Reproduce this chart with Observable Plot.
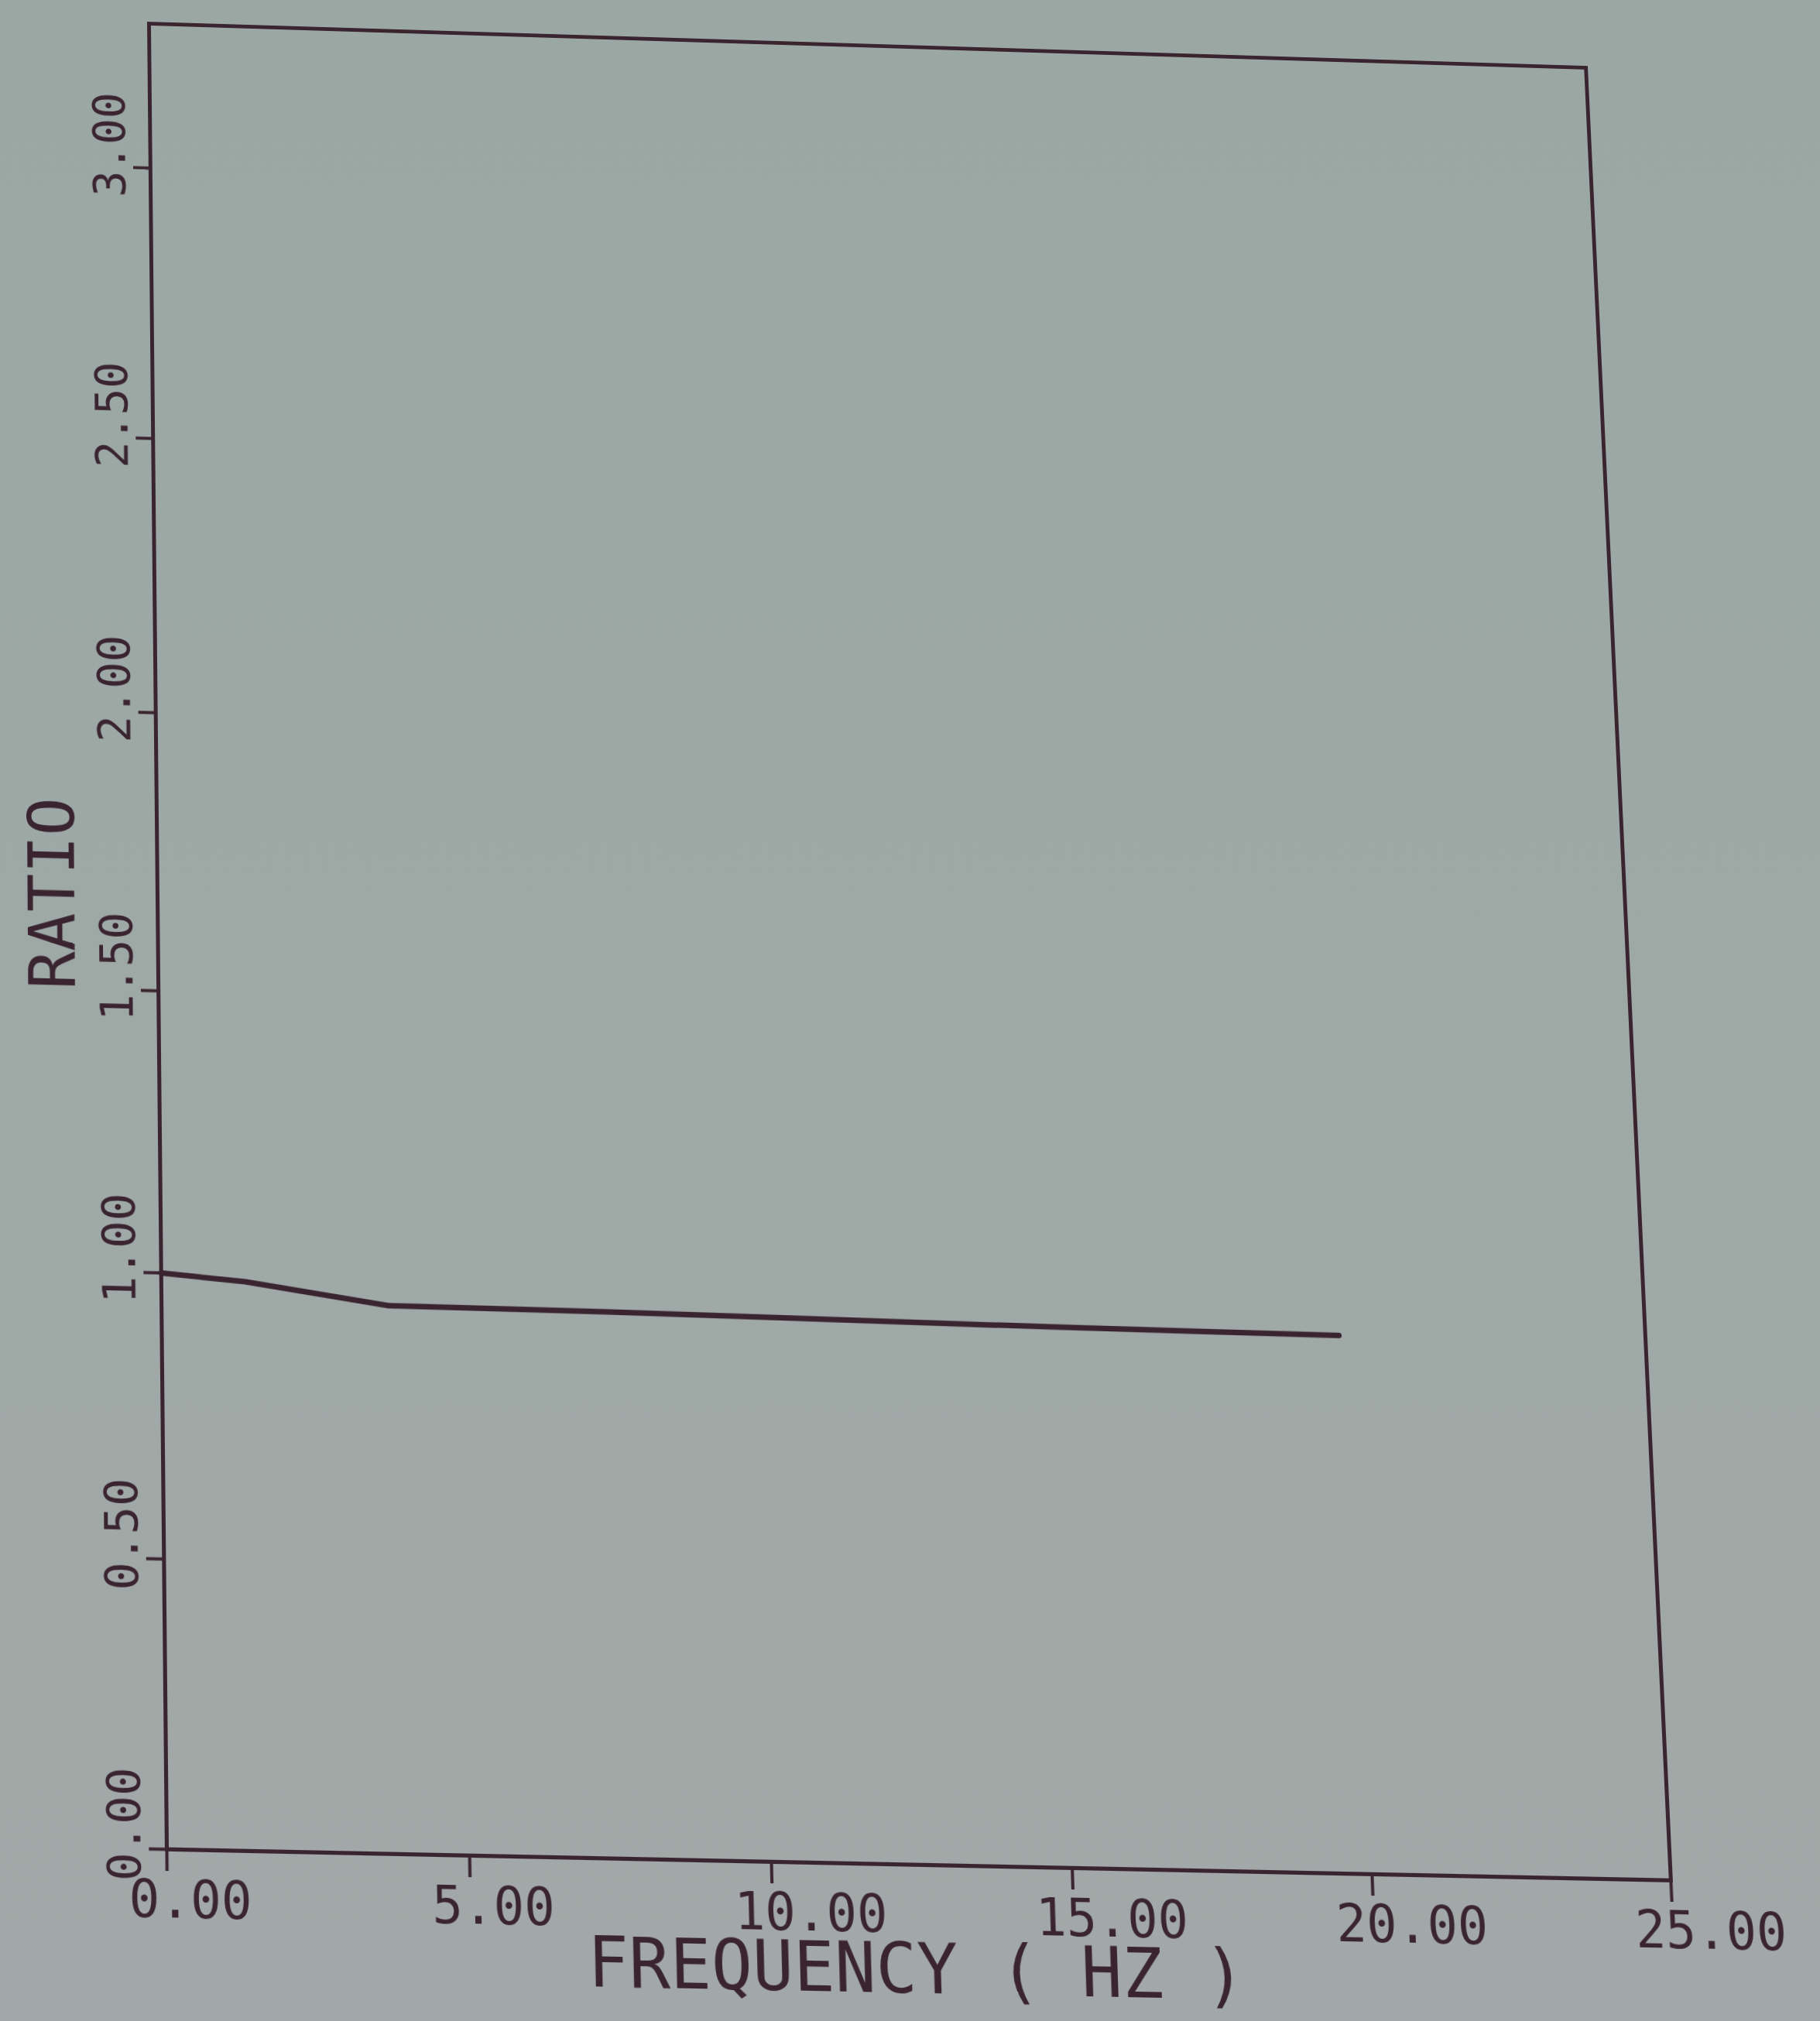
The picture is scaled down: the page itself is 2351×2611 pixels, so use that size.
<!DOCTYPE html>
<html>
<head>
<meta charset="utf-8">
<script src="https://cdn.jsdelivr.net/npm/d3@7"></script>
<script src="https://cdn.jsdelivr.net/npm/@observablehq/plot@0.6"></script>
<style>
  html, body { margin: 0; padding: 0; }
  body { width: 2351px; height: 2611px; background: linear-gradient(180deg, #9aa7a3 0%, #9ea9a6 50%, #a2a8a7 100%); overflow: hidden; }
  #chart { position: absolute; left: 0; top: 0; }
  #chart svg { display: block; }
</style>
</head>
<body>
<div id="chart"></div>
<script>
// ---- data ----
const frequency = [0, 1.4, 3.8, 7.4, 15.0, 19.8];
const ratio     = [1.000, 0.988, 0.952, 0.950, 0.942, 0.939];

const xTicks = [0, 5, 10, 15, 20, 25];
const xTickLabels = ["0.00", "5.00", "10.00", "15.00", "20.00", "25.00"];
const yTicks = [0, 0.5, 1, 1.5, 2, 2.5, 3];
const yTickLabels = ["0.00", "0.50", "1.00", "1.50", "2.00", "2.50", "3.00"];

const xLabel = "FREQUENCY ( HZ )";
const yLabel = "RATIO";
const xDomain = [0, 25];
const yDomain = [0, 3.27];

// ---- layout / style ----
const W = 2351, H = 2611;
const M = {left: 205, right: 247, top: 58, bottom: 205};
const ink = "#3a2430";
const font = "'DejaVu Sans Mono', 'Liberation Mono', monospace";

// the photographed sheet is seen slightly in perspective: frame corners (TL, TR, BR, BL) in the photo
const photoFrame = [[192, 30], [2048, 87], [2158, 2429], [215, 2389]];

const data = frequency.map((f, i) => ({f, r: ratio[i]}));

const chart = Plot.plot({
  width: W,
  height: H,
  marginLeft: M.left,
  marginRight: M.right,
  marginTop: M.top,
  marginBottom: M.bottom,
  style: {background: "transparent", color: ink, fontFamily: font, overflow: "visible"},
  x: {domain: xDomain, label: null},
  y: {domain: yDomain, label: null},
  marks: [
    Plot.frame({stroke: ink, strokeWidth: 5}),
    Plot.axisX({ticks: xTicks, tickSize: 27, tickFormat: () => "", label: null, stroke: ink, strokeWidth: 4}),
    Plot.axisY({ticks: yTicks, tickSize: 22, tickFormat: () => "", label: null, stroke: ink, strokeWidth: 4}),
    Plot.text(xTicks, {
      x: d => d, frameAnchor: "bottom",
      text: (d, i) => xTickLabels[i],
      textAnchor: "start", lineAnchor: "top",
      dx: -48, dy: 38, fontSize: 64, fill: ink, fontFamily: font
    }),
    Plot.text(yTicks, {
      y: d => d, frameAnchor: "left",
      text: (d, i) => yTickLabels[i],
      rotate: -90, textAnchor: "start", lineAnchor: "bottom",
      dx: -33, dy: 40, fontSize: 58, fill: ink, fontFamily: font
    }),
    Plot.text([xLabel], {
      frameAnchor: "bottom", text: d => d,
      textAnchor: "middle", lineAnchor: "middle",
      dx: -10, dy: 130, fontSize: 86, fill: ink, fontFamily: font
    }),
    Plot.text([yLabel], {
      frameAnchor: "left", text: d => d, rotate: -90,
      textAnchor: "middle", lineAnchor: "middle",
      dx: -133, dy: -25, fontSize: 82, fill: ink, fontFamily: font
    }),
    Plot.line(data, {x: "f", y: "r", stroke: ink, strokeWidth: 7, strokeLinejoin: "round", strokeLinecap: "round"})
  ]
});
document.getElementById("chart").appendChild(chart);

// ---- projective view transform so the drawn frame sits where the photographed one does ----
function homography(src, dst) {
  const A = [], b = [];
  for (let i = 0; i < 4; i++) {
    const [x, y] = src[i], [u, v] = dst[i];
    A.push([x, y, 1, 0, 0, 0, -u * x, -u * y]); b.push(u);
    A.push([0, 0, 0, x, y, 1, -v * x, -v * y]); b.push(v);
  }
  const n = 8;
  for (let c = 0; c < n; c++) {
    let p = c;
    for (let r = c + 1; r < n; r++) if (Math.abs(A[r][c]) > Math.abs(A[p][c])) p = r;
    [A[c], A[p]] = [A[p], A[c]]; [b[c], b[p]] = [b[p], b[c]];
    for (let r = 0; r < n; r++) {
      if (r === c) continue;
      const f = A[r][c] / A[c][c];
      for (let k = c; k < n; k++) A[r][k] -= f * A[c][k];
      b[r] -= f * b[c];
    }
  }
  return b.map((v, i) => v / A[i][i]);
}
const x0 = M.left, x1 = W - M.right, y0 = M.top, y1 = H - M.bottom;
const h = homography([[x0, y0], [x1, y0], [x1, y1], [x0, y1]], photoFrame);
chart.style.transformOrigin = "0 0";
chart.style.transform = `matrix3d(${h[0]},${h[3]},0,${h[6]},${h[1]},${h[4]},0,${h[7]},0,0,1,0,${h[2]},${h[5]},0,1)`;
</script>
</body>
</html>
